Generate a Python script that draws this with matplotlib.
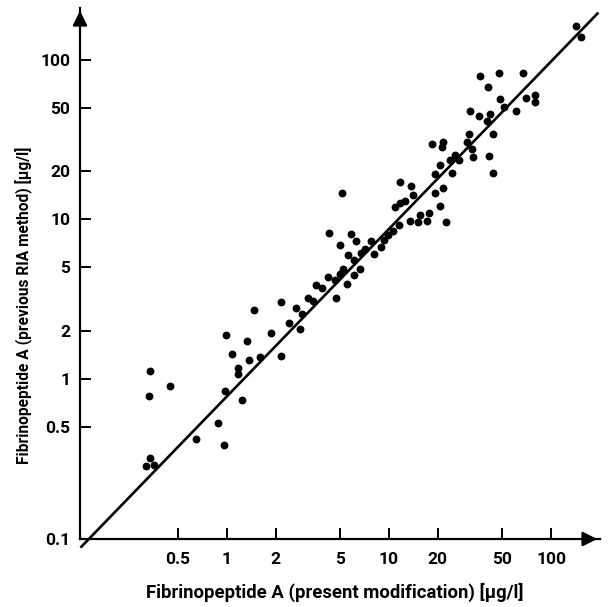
import matplotlib
matplotlib.use("Agg")
import matplotlib.pyplot as plt

# Data (present modification vs previous RIA method)
x_present = [0.336, 0.33, 0.447, 0.99, 1.34, 1.88, 2.83, 1.08, 1.18, 1.18,
             1.38, 1.61, 2.16, 0.97, 1.25, 0.88, 0.65, 0.96, 0.336, 0.318,
             0.356, 1.48, 2.16, 2.43, 2.68, 2.92, 3.19, 3.38, 3.54, 3.89,
             4.2, 4.71, 4.66, 4.28, 5.17, 5.0, 5.2, 5.0, 5.5, 5.83,
             5.58, 6.28, 6.1, 6.05, 6.65, 6.75, 7.14, 7.78, 8.03, 8.96,
             9.26, 9.8, 10.6, 11.5, 10.9, 11.7, 12.6, 11.7, 13.7, 14.0,
             13.5, 15.2, 15.6, 17.2, 17.7, 19.3, 21.4, 20.7, 22.5, 142.6,
             151.7, 36.6, 48.0, 67.0, 40.5, 48.2, 51.0, 70.4, 80.0, 80.0,
             61.0, 31.8, 36.1, 42.2, 40.3, 43.6, 31.0, 30.3, 32.5, 33.0,
             41.2, 43.6, 27.2, 25.7, 23.9, 24.5, 21.2, 21.4, 18.4, 20.5,
             19.3]
y_previous = [1.13, 0.79, 0.91, 1.88, 1.73, 1.95, 2.07, 1.43, 1.18, 1.07,
              1.31, 1.38, 1.39, 0.845, 0.74, 0.53, 0.42, 0.39, 0.32, 0.286,
              0.29, 2.7, 3.06, 2.23, 2.8, 2.57, 3.24, 3.08, 3.87, 3.74,
              4.36, 3.22, 4.16, 8.2, 14.6, 6.9, 4.92, 4.57, 3.92, 8.13,
              5.96, 7.29, 5.54, 4.47, 4.89, 6.15, 6.56, 7.29, 6.1, 6.71,
              7.4, 7.94, 8.4, 9.27, 11.9, 12.6, 12.95, 17.1, 16.1, 14.3,
              9.7, 9.6, 10.6, 9.75, 11.0, 14.7, 15.8, 12.1, 9.56, 161.0,
              138.0, 78.3, 82.1, 82.3, 67.1, 56.8, 50.8, 57.3, 59.6, 54.1,
              47.5, 47.5, 44.0, 45.8, 41.1, 34.3, 34.0, 30.4, 27.7, 24.5,
              24.8, 19.5, 23.4, 25.1, 23.4, 19.5, 28.3, 30.4, 29.4, 21.8,
              19.3]

# Regression line end points (data units)
line_x = [0.127, 193.0]
line_y = [0.0895, 194.0]

x_ticks = [0.5, 1, 2, 5, 10, 20, 50, 100]
x_ticklabels = ["0.5", "1", "2", "5", "10", "20", "50", "100"]
y_ticks = [0.1, 0.5, 1, 2, 5, 10, 20, 50, 100]
y_ticklabels = ["0.1", "0.5", "1", "2", "5", "10", "20", "50", "100"]

plt.rcParams['font.family'] = ['Roboto', 'DejaVu Sans']

fig = plt.figure(figsize=(6.09, 6.07), dpi=100)
ax = fig.add_axes([80/609, (607-539)/607, 520/609, (539-8)/607])
ax.set_xscale('log')
ax.set_yscale('log')
ax.set_xlim(0.1245, 200)
ax.set_ylim(0.1, 210)

ax.scatter(x_present, y_previous, s=32, color='black', zorder=3, linewidths=0)
ax.plot(line_x, line_y, color='black', lw=1.9, clip_on=False, zorder=2)

for side in ['top', 'right']:
    ax.spines[side].set_visible(False)
for side in ['left', 'bottom']:
    ax.spines[side].set_linewidth(1.6)

ax.xaxis.set_minor_locator(matplotlib.ticker.NullLocator())
ax.yaxis.set_minor_locator(matplotlib.ticker.NullLocator())
ax.set_xticks(x_ticks)
ax.set_xticklabels(x_ticklabels)
ax.set_yticks(y_ticks)
ax.set_yticklabels(y_ticklabels)
ax.tick_params(axis='both', direction='in', length=8, width=1.4,
               labelsize=12.5, pad=7)
ax.tick_params(axis='x', pad=9)
for lbl in ax.get_xticklabels() + ax.get_yticklabels():
    lbl.set_fontweight('bold')

# Arrow heads at axis ends
ax.annotate('', xy=(0, 1.0), xytext=(0, 0.96), xycoords='axes fraction',
            arrowprops=dict(arrowstyle='-|>', color='black', lw=1.6,
                            mutation_scale=22))
ax.annotate('', xy=(1.0, 0), xytext=(0.96, 0), xycoords='axes fraction',
            arrowprops=dict(arrowstyle='-|>', color='black', lw=1.6,
                            mutation_scale=22))

ax.set_xlabel("Fibrinopeptide A (present modification) [\u03bcg/l]",
              fontsize=13.3, fontweight='bold')
ax.set_ylabel("Fibrinopeptide A (previous RIA method) [\u03bcg/l]",
              fontsize=11.2, fontweight='bold')
ax.xaxis.set_label_coords(0.49, -0.083)
ax.yaxis.set_label_coords(-0.09, 0.44)

fig.savefig("out.png", dpi=100)
